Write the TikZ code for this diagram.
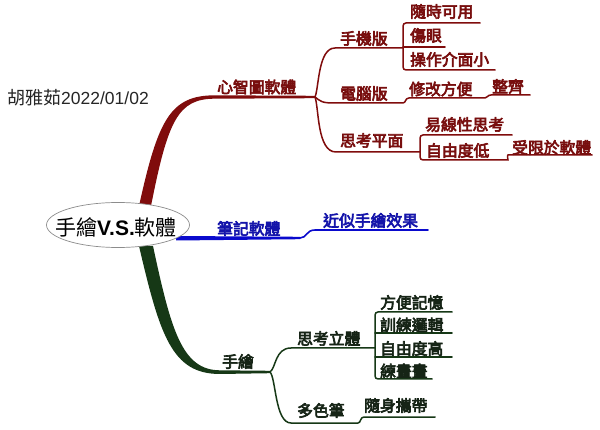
\documentclass[tikz,border=0pt]{standalone}
\usepackage{fontspec}
\usetikzlibrary{shapes.geometric}
\setmainfont{Liberation Sans}
\newfontfamily\cjk{Noto Sans CJK TC}
\newfontfamily\cjkb{Noto Sans CJK TC}[FakeBold=4]
\definecolor{mred}{RGB}{128,12,12}
\definecolor{mredt}{RGB}{120,14,14}
\definecolor{mblue}{RGB}{10,10,205}
\definecolor{mbluet}{RGB}{20,20,170}
\definecolor{mgreen}{RGB}{22,56,22}
\definecolor{mgreent}{RGB}{22,36,22}
\definecolor{egray}{RGB}{140,140,140}
\tikzset{
  lbl/.style={anchor=west, inner sep=0pt, font=\cjkb\fontsize{15.8}{16}\selectfont},
  redl/.style={lbl, text=mredt},
  bluel/.style={lbl, text=mbluet},
  greenl/.style={lbl, text=mgreent},
  rline/.style={draw=mred, line width=1.5pt, line cap=round},
  bline/.style={draw=mblue, line width=1.6pt, line cap=round},
  gline/.style={draw=mgreen, line width=1.5pt, line cap=round},
}
\begin{document}
\begin{tikzpicture}[x=1pt,y=-1pt]
\useasboundingbox (0,0) rectangle (600,430);
\fill[white] (0,0) rectangle (600,430);

% ---------- red main branch ----------
\fill[mred] (139,206) .. controls (158,120) and (170,95.3) .. (215,95.3)
  -- (315,95.8) -- (315,98.2) -- (215,98.7)
  .. controls (178,98.7) and (168,120) .. (151,206) -- cycle;
\coordinate (rj) at (315,97);
% to 手機版
\draw[rline] (rj) .. controls (319,88) and (318,48) .. (335,48) -- (403,48);
\draw[rline, rounded corners=3pt] (480,23) -- (403,23) -- (403,70) -- (495,70);
\draw[rline] (403,47) -- (445,47);
% to 電腦版
\draw[rline] (rj) .. controls (320,101) and (322,103) .. (333,103) -- (403,103)
  .. controls (406,103) and (405,98) .. (409,98) -- (485,98)
  .. controls (488,98) and (487,95) .. (491,95) -- (530,95);
% to 思考平面
\draw[rline] (rj) .. controls (319,108) and (317,152) .. (336,152) -- (420,152);
\draw[rline, rounded corners=3pt] (512,135) -- (420,135) -- (420,160) -- (505,160)
  .. controls (508,160) and (507,155) .. (511,155) -- (592,155);

% ---------- blue branch ----------
\fill[mblue] (176,236) -- (300,236.8) -- (300,239.2) -- (176,240.5) -- cycle;
\draw[bline] (300,238) .. controls (307,238) and (306,230) .. (315,230) -- (428,230);

% ---------- green main branch ----------
\fill[mgreen] (139,246) .. controls (160,336) and (172,374) .. (220,374)
  -- (270,373.2) -- (270,370.8) -- (220,370.3)
  .. controls (182,370.3) and (171,330) .. (153,246) -- cycle;
\coordinate (gj) at (270,372);
\draw[gline] (gj) .. controls (276,368) and (275,348) .. (291,348) -- (375,348);
\draw[gline, rounded corners=3pt] (452,312) -- (375,312) -- (375,379) -- (432,379);
\draw[gline] (375,333) -- (452,333);
\draw[gline] (375,357) -- (452,357);
\draw[gline] (gj) .. controls (276,378) and (275,423) .. (291,423) -- (358,423)
  .. controls (361,423) and (360,417) .. (364,417) -- (435,417);

% ---------- root ----------
\node[draw=egray, fill=white, line width=0.7pt, ellipse, minimum width=143pt, minimum height=45pt, inner sep=0pt]
  (root) at (118,225) {};
\node[inner sep=0pt] (roottext) at (116,227)
  {\fontsize{21}{23}\selectfont{\cjk 手繪}\textbf{V.S.}{\cjk 軟體}};

% ---------- date ----------
\node[anchor=west, inner sep=0pt, text=black!85] (date) at (7,97.5)
  {{\cjk\fontsize{18}{20}\selectfont 胡雅茹}\fontsize{17.5}{20}\selectfont 2022/01/02};

% ---------- red labels ----------
\node[redl] (n1) at (217,87) {心智圖軟體};
\node[redl] (n11) at (340,38.5) {手機版};
\node[redl] (n111) at (410,11.5) {隨時可用};
\node[redl] (n112) at (410,35.5) {傷眼};
\node[redl] (n113) at (410,59.5) {操作介面小};
\node[redl] (n12) at (340,93.5) {電腦版};
\node[redl] (n121) at (409,89) {修改方便};
\node[redl] (n1211) at (492,86.5) {整齊};
\node[redl] (n13) at (340,140.5) {思考平面};
\node[redl] (n131) at (425,124.5) {易線性思考};
\node[redl] (n132) at (426,150.5) {自由度低};
\node[redl] (n1321) at (512,147.5) {受限於軟體};

% ---------- blue labels ----------
\node[bluel] (n2) at (217,228.5) {筆記軟體};
\node[bluel] (n21) at (323,220.5) {近似手繪效果};

% ---------- green labels ----------
\node[greenl] (n3) at (222,361.5) {手繪};
\node[greenl] (n31) at (297,338.5) {思考立體};
\node[greenl] (n311) at (380,302.5) {方便記憶};
\node[greenl] (n312) at (380,325) {訓練邏輯};
\node[greenl] (n313) at (380,348.5) {自由度高};
\node[greenl] (n314) at (380,371) {練畫畫};
\node[greenl] (n32) at (297,410.5) {多色筆};
\node[greenl] (n321) at (364,405.5) {隨身攜帶};
\end{tikzpicture}
\end{document}
